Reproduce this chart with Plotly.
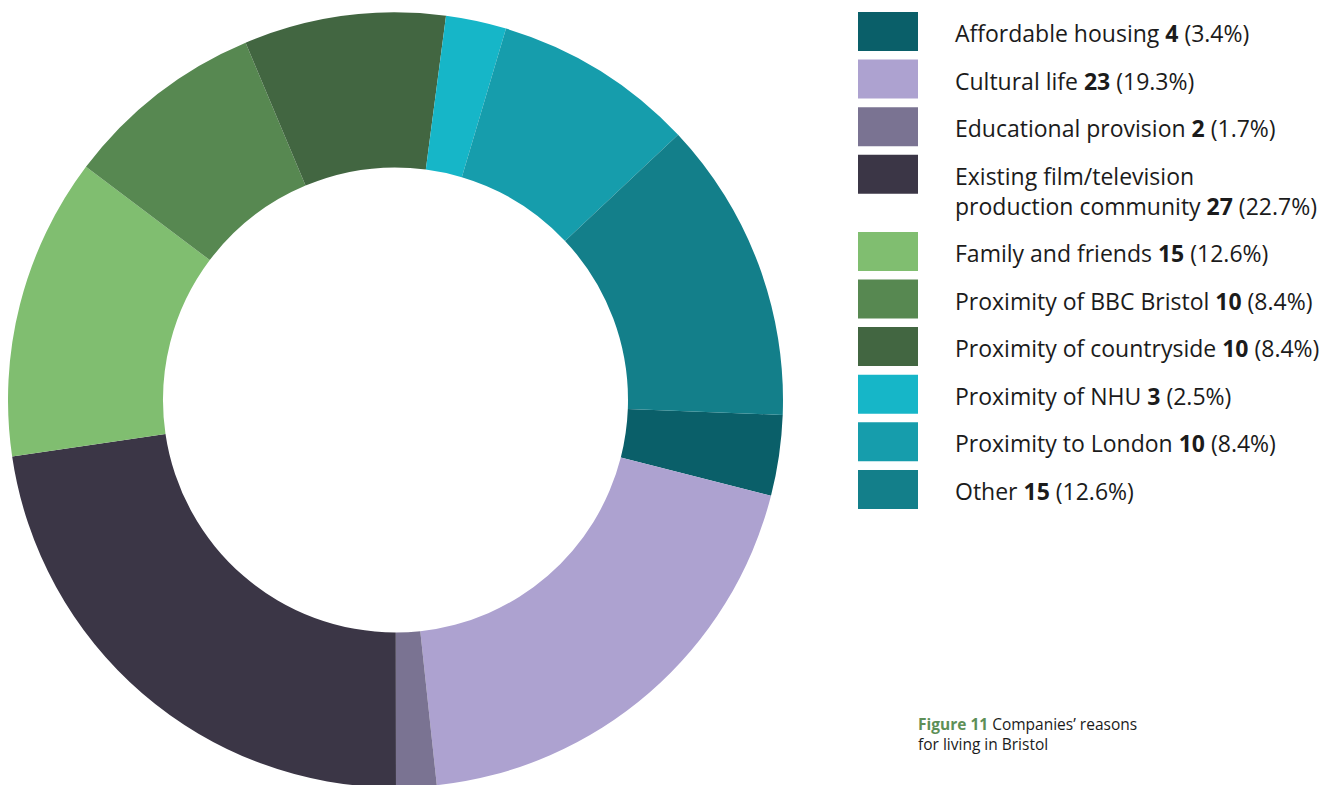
import plotly.graph_objects as go

# ---- data ----
categories = [
    "Affordable housing",
    "Cultural life",
    "Educational provision",
    "Existing film/television|production community",
    "Family and friends",
    "Proximity of BBC Bristol",
    "Proximity of countryside",
    "Proximity of NHU",
    "Proximity to London",
    "Other",
]
counts = [4, 23, 2, 27, 15, 10, 10, 3, 10, 15]
colors = [
    "#0a5f69", "#ada2d0", "#7a7392", "#3b3646", "#80be70",
    "#578851", "#426641", "#16b6c8", "#169dac", "#137f8a",
]
caption_bold = "Figure 11"
caption_rest = ["Companies\u2019 reasons", "for living in Bristol"]

# ---- layout constants (pixels, screen coordinates) ----
W, H = 1335, 785
OFF = 8  # page body margin
FONT = "Open Sans"
TEXT_COLOR = "#1b1b1b"
LEG_SIZE = 23
LINE_H = 1.3 * LEG_SIZE

def px_x(x):
    return (x - OFF) / W

def px_y(y):
    return 1 - (y - OFF) / H

total = sum(counts)

cx, cy, R = 395.5, 400, 387.5
fig = go.Figure()
fig.add_trace(go.Pie(
    labels=[c.replace("|", " ") for c in categories],
    values=counts,
    marker=dict(colors=colors, line=dict(width=0)),
    hole=0.6,
    sort=False,
    direction="clockwise",
    rotation=92.2,
    textinfo="none",
    hoverinfo="label+value+percent",
    showlegend=False,
    domain=dict(x=[max(0, px_x(cx - R)), px_x(cx + R)],
                y=[px_y(cy + R), px_y(cy - R)]),
))

shapes = []
annotations = []
box_w, box_h = 60, 39
for i, (cat, n, col) in enumerate(zip(categories, counts, colors)):
    top = 12 + 47.6 * i + (29.5 if i >= 4 else 0)
    shapes.append(dict(
        type="rect", xref="paper", yref="paper",
        x0=px_x(858), x1=px_x(858 + box_w),
        y0=px_y(top + box_h), y1=px_y(top),
        fillcolor=col, line=dict(width=0), layer="above",
    ))
    pct = f"{n / total * 100:.1f}%"
    lines = cat.split("|")
    lines[-1] = f"{lines[-1]} <b>{n}</b> ({pct})"
    first_center = top + box_h / 2 + 1.5
    mid = first_center + LINE_H * (len(lines) - 1) / 2
    annotations.append(dict(
        xref="paper", yref="paper",
        x=px_x(953), y=px_y(mid),
        xanchor="left", yanchor="middle", align="left",
        text="<br>".join(lines), showarrow=False,
        font=dict(family=FONT, size=LEG_SIZE, color=TEXT_COLOR),
    ))

annotations.append(dict(
    xref="paper", yref="paper", x=px_x(916), y=px_y(734),
    xanchor="left", yanchor="middle", align="left", showarrow=False,
    text=(f"<b><span style='color:#5d8f57'>{caption_bold}</span></b> "
          f"{caption_rest[0]}<br>{caption_rest[1]}"),
    font=dict(family=FONT, size=15.5, color=TEXT_COLOR),
))

fig.update_layout(
    width=W, height=H,
    margin=dict(l=0, r=0, t=0, b=0),
    paper_bgcolor="white", plot_bgcolor="white",
    shapes=shapes, annotations=annotations,
    font=dict(family=FONT),
)

fig.write_html("out.html")
